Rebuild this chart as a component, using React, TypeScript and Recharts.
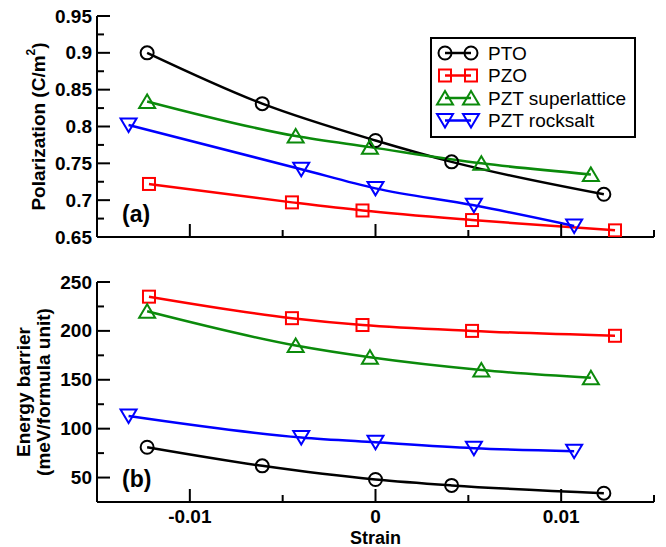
import { Label, Legend, Line, LineChart, XAxis, YAxis } from "recharts";

const seriesNames = ["PTO", "PZO", "PZT superlattice", "PZT rocksalt"];
const seriesColors = ["#000000", "#ff0000", "#0b8a0b", "#0000ff"];
const seriesMarkers = ["circle", "square", "up", "down"];

// strain of each calculation
const ptoStrain = [-0.0123, -0.0061, 0, 0.0041, 0.0123];
const pzoStrain = [-0.0122, -0.0045, -0.0007, 0.0052, 0.0129];
const slStrain = [-0.0123, -0.0043, -0.0003, 0.0057, 0.0116];
const rsStrain = [-0.0133, -0.004, 0, 0.0053, 0.0107];

// (a) polarization, C/m^2
const ptoPol = [0.9, 0.831, 0.781, 0.752, 0.708];
const pzoPol = [0.722, 0.697, 0.686, 0.673, 0.659];
const slPol = [0.834, 0.787, 0.772, 0.75, 0.735];
const rsPol = [0.802, 0.742, 0.716, 0.693, 0.665];

// (b) energy barrier, meV/formula unit
const ptoEnergy = [81, 62, 48, 42, 34];
const pzoEnergy = [235, 213, 206, 200, 195];
const slEnergy = [220, 185, 173, 160, 152];
const rsEnergy = [113, 91, 86, 80, 77];

const strainTicks = [-0.015, -0.01, -0.005, 0, 0.005, 0.01, 0.015];
const polTicks = [0.65, 0.675, 0.7, 0.725, 0.75, 0.775, 0.8, 0.825, 0.85, 0.875, 0.9, 0.925, 0.95];
const energyTicks = [25, 50, 75, 100, 125, 150, 175, 200, 225, 250];

const FONT = '"Liberation Sans", Arial, Helvetica, sans-serif';
const strains = [ptoStrain, pzoStrain, slStrain, rsStrain];
const zip = (xs: number[], ys: number[]) => xs.map((x, i) => ({ x, y: ys[i] }));
const polData = [ptoPol, pzoPol, slPol, rsPol].map((ys, i) => zip(strains[i], ys));
const energyData = [ptoEnergy, pzoEnergy, slEnergy, rsEnergy].map((ys, i) => zip(strains[i], ys));

const fmt = (v: number) => String(Number(v.toFixed(3)));
const strainMajor = (v: number) => Math.round(v * 1000) % 10 === 0;
const polMajor = (v: number) => Math.round(v * 1000) % 50 === 0;
const energyMajor = (v: number) => v % 50 === 0;

const Marker = ({ kind, cx, cy, color }: any) => {
  const p = { fill: "none", stroke: color, strokeWidth: 2 };
  if (kind === "circle") return <circle cx={cx} cy={cy} r={6.5} {...p} />;
  if (kind === "square") return <rect x={cx - 6} y={cy - 6} width={12} height={12} {...p} />;
  if (kind === "up")
    return <polygon points={`${cx},${cy - 7} ${cx - 8},${cy + 6.5} ${cx + 8},${cy + 6.5}`} {...p} />;
  return <polygon points={`${cx},${cy + 7} ${cx - 8},${cy - 6.5} ${cx + 8},${cy - 6.5}`} {...p} />;
};

const tickText = { fontFamily: FONT, fontWeight: 700, fontSize: 19, fill: "#000" };

const BottomTick = ({ x, y, payload, showLabel }: any) => {
  const major = strainMajor(payload.value);
  return (
    <g>
      <line x1={x} x2={x} y1={y} y2={y - (major ? 13 : 7)} stroke="#000" strokeWidth={2} />
      {showLabel && major && (
        <text x={x} y={y + 14} textAnchor="middle" dominantBaseline="central" {...tickText}>
          {fmt(payload.value)}
        </text>
      )}
    </g>
  );
};

const TopTick = ({ x, y, payload }: any) => {
  const major = strainMajor(payload.value);
  return <line x1={x} x2={x} y1={y} y2={y + (major ? 13 : 7)} stroke="#000" strokeWidth={2} />;
};

const LeftTick = ({ x, y, payload, isMajor }: any) => {
  const major = isMajor(payload.value);
  return (
    <g>
      <line x1={x} x2={x + (major ? 13 : 7)} y1={y} y2={y} stroke="#000" strokeWidth={2} />
      {major && (
        <text x={x - 5} y={y} textAnchor="end" dominantBaseline="central" {...tickText}>
          {fmt(payload.value)}
        </text>
      )}
    </g>
  );
};

const RightTick = ({ x, y, payload, isMajor }: any) => {
  const major = isMajor(payload.value);
  return <line x1={x} x2={x - (major ? 13 : 7)} y1={y} y2={y} stroke="#000" strokeWidth={2} />;
};

const titleText = { fontFamily: FONT, fontWeight: 700, fontSize: 19, fill: "#000" };

const PolTitle = ({ viewBox }: any) => {
  const cy = viewBox.y + viewBox.height / 2;
  return (
    <text x={38} y={cy} transform={`rotate(-90 38 ${cy})`} textAnchor="middle" dominantBaseline="central" {...titleText}>
      Polarization (C/m<tspan fontSize={12} dy={-7}>2</tspan>
      <tspan dy={7}>)</tspan>
    </text>
  );
};

const EnergyTitle = ({ viewBox }: any) => {
  const cy = viewBox.y + viewBox.height / 2;
  return (
    <g>
      <text x={23} y={cy} transform={`rotate(-90 23 ${cy})`} textAnchor="middle" dominantBaseline="central" {...titleText}>
        Energy barrier
      </text>
      <text x={43} y={cy} transform={`rotate(-90 43 ${cy})`} textAnchor="middle" dominantBaseline="central" {...titleText}>
        (meV/formula unit)
      </text>
    </g>
  );
};

const StrainTitle = ({ viewBox }: any) => (
  <text
    x={viewBox.x + viewBox.width / 2}
    y={viewBox.y + 36}
    textAnchor="middle"
    dominantBaseline="central"
    {...titleText}
    fontSize={18}
  >
    Strain
  </text>
);

const LegendBox = () => (
  <svg width={206} height={101}>
    <rect x={1} y={1} width={204} height={99} fill="#fff" stroke="#000" strokeWidth={2} />
    {seriesNames.map((name, i) => {
      const cy = 16 + i * 22.5;
      return (
        <g key={name}>
          <line x1={15} x2={41} y1={cy} y2={cy} stroke={seriesColors[i]} strokeWidth={2.5} />
          <Marker kind={seriesMarkers[i]} cx={15} cy={cy} color={seriesColors[i]} />
          <Marker kind={seriesMarkers[i]} cx={41} cy={cy} color={seriesColors[i]} />
          <text x={58} y={cy} dominantBaseline="central" fontFamily={FONT} fontSize={19} fill="#000">
            {name}
          </text>
        </g>
      );
    })}
  </svg>
);

const panelLabel = (text: string, top: number) => (
  <div
    style={{
      position: "absolute",
      left: 122,
      top,
      fontFamily: FONT,
      fontWeight: 700,
      fontSize: 23,
      lineHeight: "24px",
    }}
  >
    {text}
  </div>
);

const axisLine = { stroke: "#000", strokeWidth: 2 };

const renderLines = (data: { x: number; y: number }[][]) =>
  data.map((d, i) => (
    <Line
      key={seriesNames[i]}
      xAxisId="b"
      yAxisId="l"
      data={d}
      dataKey="y"
      name={seriesNames[i]}
      type="monotone"
      stroke={seriesColors[i]}
      strokeWidth={2.5}
      isAnimationActive={false}
      dot={(p: any) => <Marker key={p.index} kind={seriesMarkers[i]} cx={p.cx} cy={p.cy} color={seriesColors[i]} />}
      activeDot={false}
      legendType="none"
    />
  ));

const Panel = ({ height, top, yDomain, yTicks, isMajor, showX, data, title, legend }: any) => (
  <LineChart
    width={666}
    height={height}
    margin={{ top, right: 12, bottom: 0, left: 0 }}
    style={{ position: "absolute", left: 0, top: 0 }}
  >
    <XAxis
      xAxisId="b"
      type="number"
      dataKey="x"
      domain={[-0.015, 0.015]}
      ticks={strainTicks}
      interval={0}
      allowDataOverflow
      tickSize={0}
      tickMargin={0}
      tickLine={false}
      axisLine={axisLine}
      height={showX ? 45 : 23}
      tick={(p: any) => <BottomTick {...p} showLabel={showX} />}
    >
      {showX && <Label content={<StrainTitle />} />}
    </XAxis>
    <XAxis
      xAxisId="t"
      orientation="top"
      type="number"
      domain={[-0.015, 0.015]}
      ticks={strainTicks}
      interval={0}
      allowDataOverflow
      tickSize={0}
      tickMargin={0}
      tickLine={false}
      axisLine={axisLine}
      height={0}
      tick={(p: any) => <TopTick {...p} />}
    />
    <YAxis
      yAxisId="l"
      type="number"
      domain={yDomain}
      ticks={yTicks}
      interval={0}
      allowDataOverflow
      tickSize={0}
      tickMargin={0}
      tickLine={false}
      axisLine={axisLine}
      width={97}
      tick={(p: any) => <LeftTick {...p} isMajor={isMajor} />}
    >
      <Label content={title} />
    </YAxis>
    <YAxis
      yAxisId="r"
      orientation="right"
      type="number"
      domain={yDomain}
      ticks={yTicks}
      interval={0}
      allowDataOverflow
      tickSize={0}
      tickMargin={0}
      tickLine={false}
      axisLine={axisLine}
      width={0}
      tick={(p: any) => <RightTick {...p} isMajor={isMajor} />}
    />
    {legend && (
      <Legend
        layout="vertical"
        align="center"
        verticalAlign="middle"
        content={<LegendBox />}
        wrapperStyle={{ position: "absolute", left: 430, top: 37, width: 206, height: 101 }}
      />
    )}
    {renderLines(data)}
  </LineChart>
);

export default function App() {
  return (
    <div style={{ position: "absolute", left: 0, top: 0, width: 666, height: 547, background: "#fff" }}>
      <div style={{ position: "absolute", left: 0, top: 0, width: 666, height: 260 }}>
        <Panel
          height={260}
          top={16}
          yDomain={[0.65, 0.95]}
          yTicks={polTicks}
          isMajor={polMajor}
          showX={false}
          data={polData}
          title={<PolTitle />}
          legend
        />
        {panelLabel("(a)", 202)}
      </div>
      <div style={{ position: "absolute", left: 0, top: 262, width: 666, height: 285 }}>
        <Panel
          height={285}
          top={20}
          yDomain={[25, 250]}
          yTicks={energyTicks}
          isMajor={energyMajor}
          showX
          data={energyData}
          title={<EnergyTitle />}
          legend={false}
        />
        {panelLabel("(b)", 205)}
      </div>
    </div>
  );
}
